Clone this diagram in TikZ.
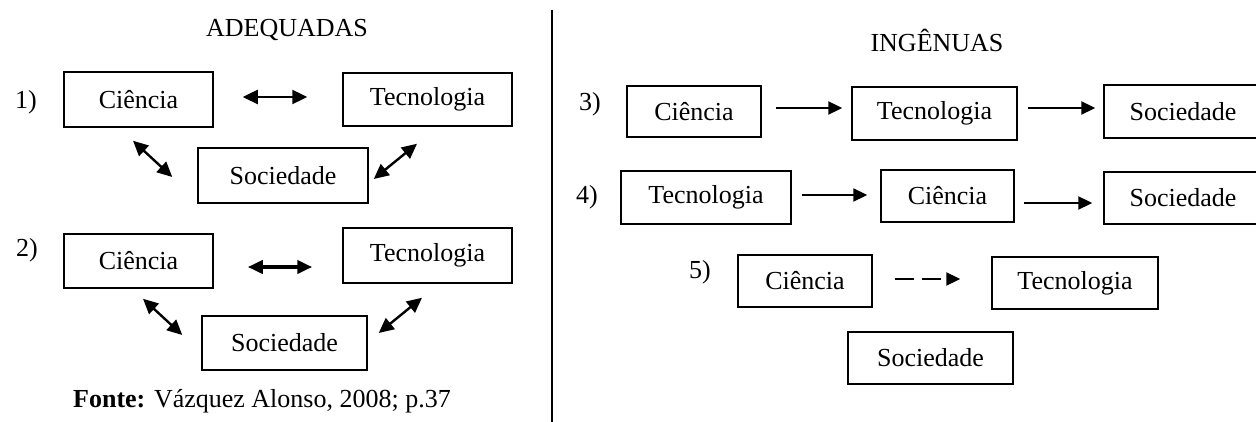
\documentclass[tikz,border=0pt]{standalone}
\usepackage{fontspec}
\setmainfont{Liberation Serif}
\usetikzlibrary{arrows.meta,calc}
\begin{document}
\begin{tikzpicture}[x=1pt,y=-1pt,
  every node/.style={font=\fontsize{26}{30}\selectfont, inner sep=0pt},
  box/.style={draw, line width=1.5pt, rectangle},
  dbl/.style={line width=2.4pt, {Triangle[length=15pt,width=14pt]}-{Triangle[length=15pt,width=14pt]}},
  dblthick/.style={line width=3.8pt, {Triangle[length=15pt,width=13pt]}-{Triangle[length=15pt,width=13pt]}},
  one/.style={line width=2.3pt, -{Triangle[length=14pt,width=13pt]}},
  onedash/.style={line width=2.3pt, dash pattern=on 19pt off 8pt, -{Triangle[length=14pt,width=13pt]}}]
\useasboundingbox (0,0) rectangle (1256,422);
% titles and separator
\node (tA) at (287,30) {ADEQUADAS};
\node (tI) at (937,40) {INGÊNUAS};
\coordinate (lt) at (552,10);
\coordinate (lb) at (552,422);
\draw[line width=2pt] (lt) -- (lb);
% 1)
\node (n1) at (26,102) {1)};
\node[box, minimum width=149pt, minimum height=55pt] (c1) at (138.5,99.5) {Ciência};
\node[box, minimum width=169pt, minimum height=53pt] (t1) at (427.5,99.5) {Tecnologia};
\node[box, minimum width=170pt, minimum height=55pt] (s1) at (283,175.5) {Sociedade};
\draw[dbl] ($(c1.east)+(29,-2.5)$) -- ($(t1.west)+(-35,-2.5)$);
\draw[dbl] ($(c1.south)+(-5.5,13)$) -- ($(s1.west)+(-25,1.5)$);
\draw[dbl] ($(t1.south)+(-10.5,17)$) -- ($(s1.east)+(5,3.5)$);
% 2)
\node (n2) at (27,250) {2)};
\node[box, minimum width=149pt, minimum height=54pt] (c2) at (138.5,261) {Ciência};
\node[box, minimum width=169pt, minimum height=55pt] (t2) at (427.5,255.5) {Tecnologia};
\node[box, minimum width=165pt, minimum height=54pt] (s2) at (284.5,343) {Sociedade};
\draw[dblthick] ($(c2.east)+(34,6)$) -- ($(t2.west)+(-30,11.5)$);
\draw[dbl] ($(c2.south)+(4.5,10)$) -- ($(s2.west)+(-19,-8)$);
\draw[dbl] ($(t2.south)+(-5.5,14)$) -- ($(s2.east)+(11,-10)$);
\node (src) at (262,401) {\textbf{Fonte:} Vázquez Alonso, 2008; p.37};
% 3)
\node (n3) at (590,104) {3)};
\node[box, minimum width=134pt, minimum height=51pt] (c3) at (694,111.5) {Ciência};
\node[box, minimum width=165pt, minimum height=53pt] (t3) at (934.5,113.5) {Tecnologia};
\node[box, minimum width=158pt, minimum height=53pt] (s3) at (1183,111.5) {Sociedade};
\draw[one] ($(c3.east)+(14,-3.5)$) -- ($(t3.west)+(-9,-5.5)$);
\draw[one] ($(t3.east)+(10,-5.5)$) -- ($(s3.west)+(-8,-3.5)$);
% 4)
\node (n4) at (587,197) {4)};
\node[box, minimum width=170pt, minimum height=53pt] (t4) at (706,197.5) {Tecnologia};
\node[box, minimum width=133pt, minimum height=52pt] (c4) at (947.5,196) {Ciência};
\node[box, minimum width=158pt, minimum height=52pt] (s4) at (1183,198) {Sociedade};
\draw[one] ($(t4.east)+(10,-2.5)$) -- ($(c4.west)+(-13,-1)$);
\draw[one] ($(c4.east)+(9,7)$) -- ($(s4.west)+(-11,5)$);
% 5)
\node (n5) at (700,272) {5)};
\node[box, minimum width=134pt, minimum height=52pt] (c5) at (805,281) {Ciência};
\node[box, minimum width=166pt, minimum height=52pt] (t5) at (1075,283) {Tecnologia};
\node[box, minimum width=165pt, minimum height=52pt] (s5) at (930.5,358) {Sociedade};
\draw[onedash] ($(c5.east)+(22,-2)$) -- ($(t5.west)+(-31,-4)$);
\end{tikzpicture}
\end{document}
